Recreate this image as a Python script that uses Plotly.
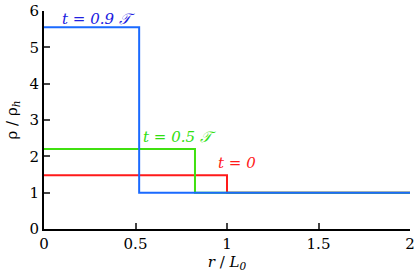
import plotly.graph_objects as go

# data
r_red = [0, 1.0, 2.0]
rho_red = [1.48, 1.0, 1.0]
r_green = [0, 0.825, 2.0]
rho_green = [2.2, 1.0, 1.0]
r_blue = [0, 0.52, 2.0]
rho_blue = [5.55, 1.0, 1.0]
x_ticks = [0, 0.5, 1, 1.5, 2]
x_tick_labels = ["0", "0.5", "1", "1.5", "2"]
y_ticks = [0, 1, 2, 3, 4, 5, 6]

fig = go.Figure()
fig.add_trace(go.Scatter(x=r_red, y=rho_red, mode="lines", line=dict(color="#ff1a1a", width=2, shape="hv")))
fig.add_trace(go.Scatter(x=r_green, y=rho_green, mode="lines", line=dict(color="#40e010", width=2, shape="hv")))
fig.add_trace(go.Scatter(x=r_blue, y=rho_blue, mode="lines", line=dict(color="#1a6aff", width=2, shape="hv")))

font = "DejaVu Serif"
fig.add_annotation(x=0.52, y=5.55, text="<i>t = 0.9 𝒯</i>", showarrow=False, xanchor="right", yanchor="bottom",
                   xshift=-2, yshift=-3, font=dict(family=font, size=15, color="#2020e0"))
fig.add_annotation(x=0.53, y=2.2, text="<i>t = 0.5 𝒯</i>", showarrow=False, xanchor="left", yanchor="bottom",
                   yshift=1, font=dict(family=font, size=15, color="#30e010"))
fig.add_annotation(x=0.94, y=1.48, text="<i>t = 0</i>", showarrow=False, xanchor="left", yanchor="bottom",
                   yshift=1, font=dict(family=font, size=15, color="#ff1a1a"))

fig.update_layout(
    width=415, height=279, showlegend=False,
    margin=dict(l=44, r=5, t=11, b=50),
    paper_bgcolor="white", plot_bgcolor="white",
    font=dict(family=font, size=15, color="black"),
)
fig.update_xaxes(range=[0, 2], tickvals=x_ticks, ticktext=x_tick_labels, ticks="inside", ticklen=6, tickwidth=2,
                 showline=True, linecolor="black", linewidth=2, showgrid=False, zeroline=False, automargin=False,
                 ticklabeloverflow="allow", tickfont=dict(family=font, size=15),
                 title=dict(text="<i>r</i> / <i>L<sub>0</sub></i>", standoff=0, font=dict(family=font, size=15)))
fig.update_yaxes(range=[0, 6], tickvals=y_ticks, ticks="inside", ticklen=6, tickwidth=2,
                 showline=True, linecolor="black", linewidth=2, showgrid=False, zeroline=False, automargin=False,
                 ticklabeloverflow="allow", tickfont=dict(family=font, size=15),
                 title=dict(text="ρ / ρ<sub><i>h</i></sub>", standoff=8, font=dict(family=font, size=15)))
fig.write_html("out.html", config={"displayModeBar": False},
               post_script="document.body.style.margin='0';")
